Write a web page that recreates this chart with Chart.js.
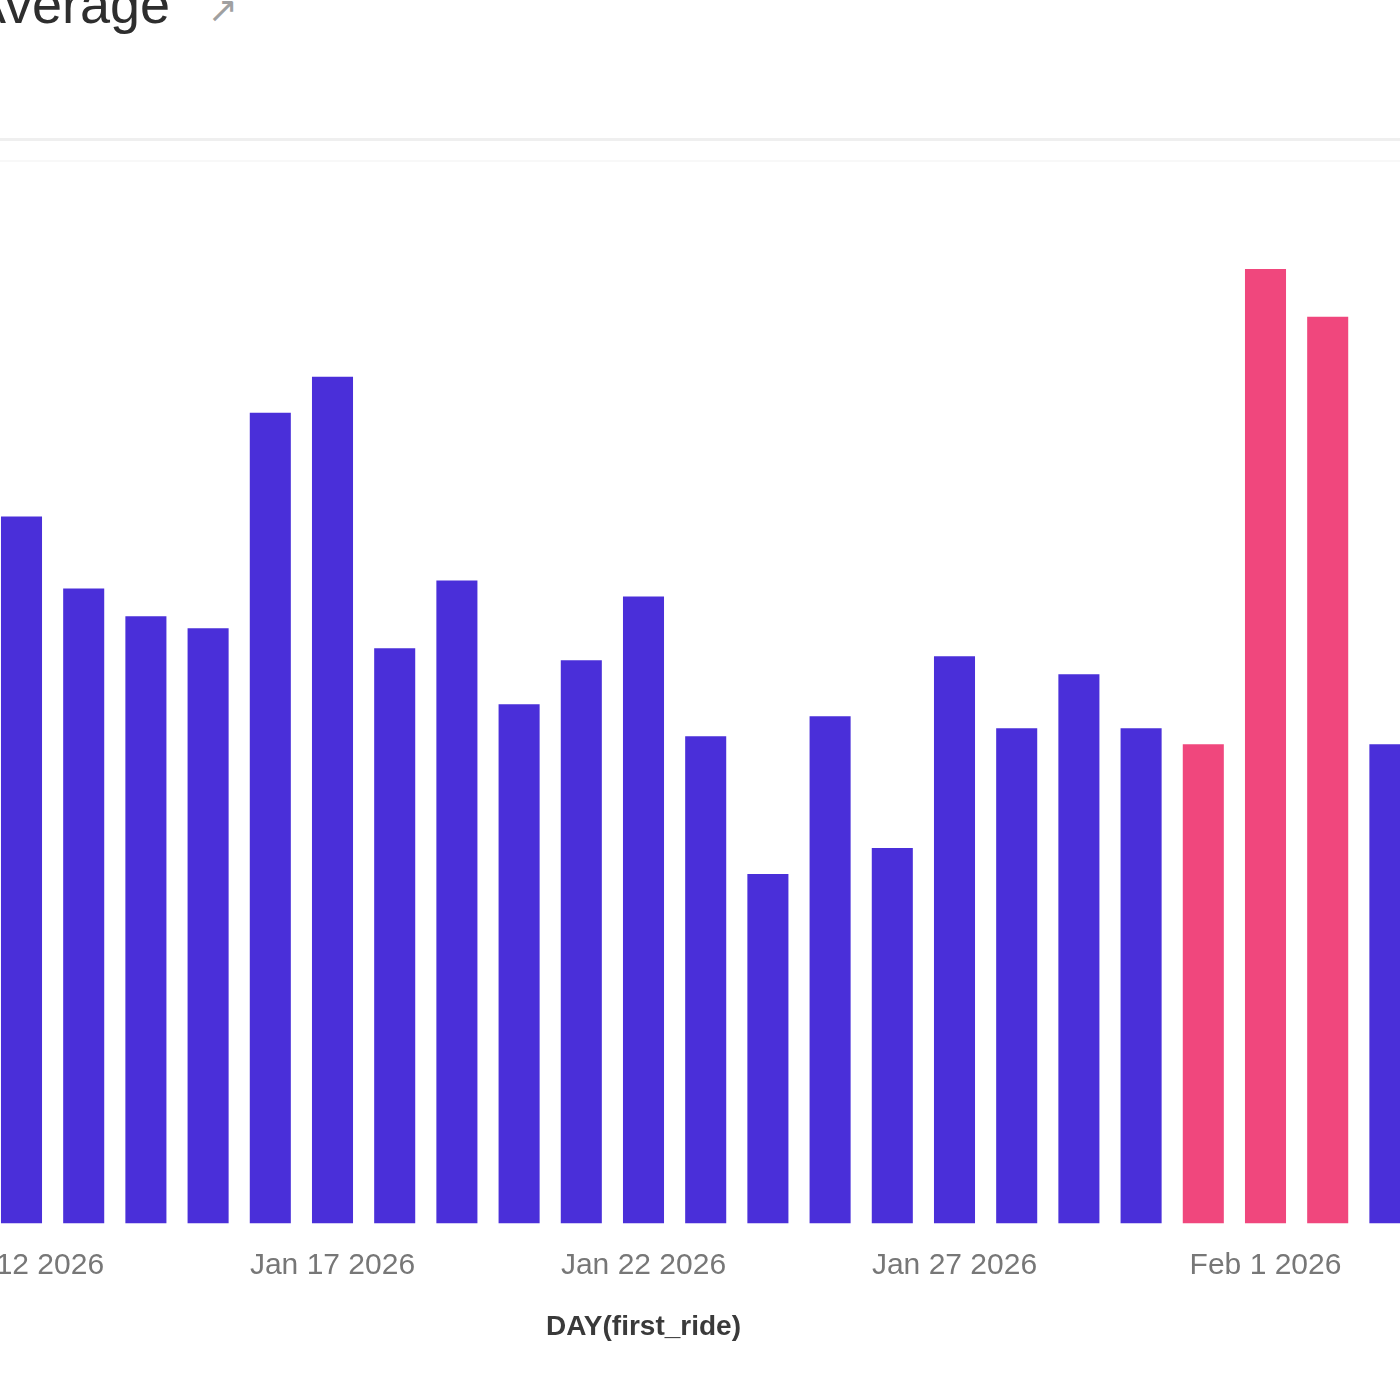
<!DOCTYPE html>
<html>
<head>
<meta charset="utf-8">
<script src="https://cdn.jsdelivr.net/npm/chart.js@4/dist/chart.umd.min.js"></script>
<style>
  html, body { margin: 0; padding: 0; width: 1400px; height: 1400px; overflow: hidden; background: #ffffff; }
  #title { position: absolute; left: -30px; top: -23px; font-family: "Liberation Sans", Arial, sans-serif; font-size: 54px; line-height: 54px; color: #2e2e2e; white-space: nowrap; }
  #icon { position: absolute; left: 208px; top: -8px; font-family: "DejaVu Sans", sans-serif; font-size: 36px; line-height: 36px; color: #a0a0a0; }
  #sep1 { position: absolute; left: 0; top: 138px; width: 1400px; height: 3px; background: #efefef; }
  #sep2 { position: absolute; left: 0; top: 160px; width: 1400px; height: 2px; background: #f8f8f8; }
  #chart { position: absolute; left: -134px; top: 200px; }
</style>
</head>
<body>
<div id="title">Average</div>
<div id="icon">↗</div>
<div id="sep1"></div>
<div id="sep2"></div>
<canvas id="chart" width="1555" height="1154"></canvas>
<script>
// Categories (days); Jan 10 and Jan 11 lie outside the visible crop
const categories = [
  'Jan 10 2026','Jan 11 2026',
  'Jan 12 2026','Jan 13 2026','Jan 14 2026','Jan 15 2026','Jan 16 2026',
  'Jan 17 2026','Jan 18 2026','Jan 19 2026','Jan 20 2026','Jan 21 2026',
  'Jan 22 2026','Jan 23 2026','Jan 24 2026','Jan 25 2026','Jan 26 2026',
  'Jan 27 2026','Jan 28 2026','Jan 29 2026','Jan 30 2026','Jan 31 2026',
  'Feb 1 2026','Feb 2 2026','Feb 3 2026'
];
// Series values (null = not visible)
const values = [
  null, null,
  17.7, 15.9, 15.2, 14.9, 20.3,
  21.2, 14.4, 16.1, 13.0, 14.1,
  15.7, 12.2, 8.75, 12.7, 9.4,
  14.2, 12.4, 13.75, 12.4, 12.0,
  23.9, 22.7, 12.0
];
// Highlighted days
const highlighted = ['Jan 31 2026', 'Feb 1 2026', 'Feb 2 2026'];
// Tick labels shown on the x axis
const tickLabels = ['Jan 12 2026', 'Jan 17 2026', 'Jan 22 2026', 'Jan 27 2026', 'Feb 1 2026'];
const axisTitle = 'DAY(first_ride)';

const BLUE = '#4A2FD9';
const PINK = '#F0477D';

new Chart(document.getElementById('chart'), {
  type: 'bar',
  data: {
    labels: categories,
    datasets: [{
      label: 'Average',
      data: values,
      backgroundColor: (ctx) => highlighted.includes(categories[ctx.dataIndex]) ? PINK : BLUE,
      borderWidth: 0,
      categoryPercentage: 1.0,
      barPercentage: 0.66
    }]
  },
  options: {
    responsive: false,
    animation: false,
    layout: { padding: { left: 0, top: 25, right: 0, bottom: 0 } },
    plugins: { legend: { display: false }, tooltip: { enabled: false }, title: { display: false } },
    scales: {
      x: {
        grid: { display: false, drawTicks: false },
        border: { display: false },
        ticks: {
          autoSkip: false,
          maxRotation: 0,
          minRotation: 0,
          padding: 24,
          color: '#777777',
          font: { family: '"Liberation Sans", Arial, sans-serif', size: 30 },
          callback: function (val, i) {
            const l = categories[i];
            return tickLabels.includes(l) ? l : '';
          }
        },
        title: {
          display: true,
          text: axisTitle,
          color: '#3a3a3a',
          padding: { top: 3, bottom: 10 },
          font: { family: '"Liberation Sans", Arial, sans-serif', size: 28, weight: 'bold' }
        }
      },
      y: {
        display: false,
        min: 0,
        max: 25
      }
    }
  }
});
</script>
</body>
</html>
